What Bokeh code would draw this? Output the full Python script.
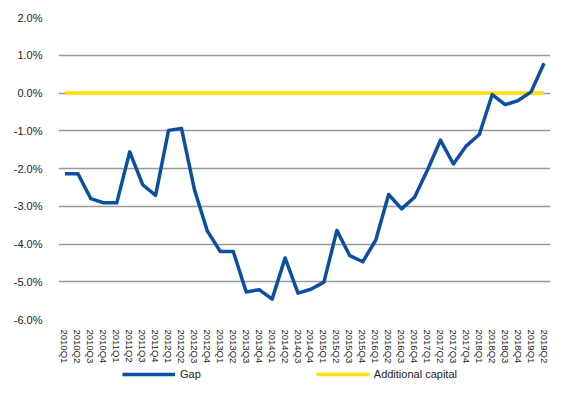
from bokeh.plotting import figure
from bokeh.layouts import column
from bokeh.models import FixedTicker, PrintfTickFormatter, Legend, LegendItem, ColumnDataSource
from bokeh.embed import file_html
from bokeh.resources import INLINE

quarters = [f"{y}Q{q}" for y in range(2010, 2020) for q in range(1, 5)][:38]

gap = [-2.14, -2.14, -2.80, -2.91, -2.91, -1.56, -2.43, -2.71,
       -0.99, -0.94, -2.56, -3.66, -4.20, -4.20, -5.27, -5.21,
       -5.46, -4.37, -5.30, -5.20, -5.01, -3.64, -4.31, -4.47,
       -3.90, -2.69, -3.07, -2.76, -2.04, -1.25, -1.88, -1.40,
       -1.10, -0.04, -0.31, -0.20, 0.03, 0.79]

additional_capital = [0.0] * len(quarters)

y_ticks = [-6, -5, -4, -3, -2, -1, 0, 1, 2]

GAP_COLOR = "#0B4EA2"
ADD_COLOR = "#FFE000"

src = ColumnDataSource(dict(q=quarters, gap=gap, add=additional_capital))

p = figure(width=552, height=366, x_range=quarters, y_range=(-6, 2),
           output_backend="svg", toolbar_location=None,
           min_border_left=58, min_border_top=17, min_border_right=2,
           min_border_bottom=0)
p.outline_line_color = None
p.background_fill_color = "white"
p.border_fill_color = "white"
p.x_range.range_padding = 0

r_gap = p.line("q", "gap", source=src, color=GAP_COLOR, line_width=3.5, line_join="round")
r_add = p.line("q", "add", source=src, color=ADD_COLOR, line_width=3.5)
p.renderers = [r_add, r_gap]

p.xgrid.grid_line_color = None
p.ygrid.grid_line_color = "#999999"
p.ygrid.grid_line_width = 1.6
p.ygrid.ticker = FixedTicker(ticks=y_ticks)

ya = p.yaxis[0]
ya.ticker = FixedTicker(ticks=y_ticks)
ya.formatter = PrintfTickFormatter(format="%.1f%%")
ya.axis_line_color = None
ya.major_tick_line_color = None
ya.minor_tick_line_color = None
ya.major_label_text_font = "Liberation Sans"
ya.major_label_text_font_size = "11px"
ya.major_label_text_color = "#222222"
ya.major_label_standoff = 10

xa = p.xaxis[0]
xa.axis_line_color = None
xa.major_tick_line_color = None
xa.minor_tick_line_color = None
xa.major_label_orientation = "vertical"
xa.major_label_text_font = "Liberation Sans"
xa.major_label_text_font_size = "9.5px"
xa.major_label_text_color = "#222222"
xa.major_label_standoff = 4

# legend strip (its own small figure; lines lie outside its y range)
lg = figure(width=552, height=16, x_range=quarters, y_range=(100, 101),
            output_backend="svg", toolbar_location=None,
            x_axis_location=None, y_axis_location=None, min_border=0)
lg.outline_line_color = None
lg.grid.grid_line_color = None
lg_gap = lg.line("q", "gap", source=src, color=GAP_COLOR, line_width=3.5)
lg_add = lg.line("q", "add", source=src, color=ADD_COLOR, line_width=3.5)

legend = Legend(items=[LegendItem(label="Gap", renderers=[lg_gap]),
                       LegendItem(label="Additional capital", renderers=[lg_add])],
                orientation="horizontal", location=(64, 1),
                border_line_color=None, background_fill_alpha=0,
                padding=0, margin=0, spacing=115, glyph_width=53,
                label_standoff=5, label_text_font="Liberation Sans",
                label_text_font_size="11px", label_text_color="#222222",
                glyph_height=14, label_height=14)
lg.add_layout(legend, "center")

open("out.html", "w").write(file_html(column(p, lg, spacing=0), INLINE))
